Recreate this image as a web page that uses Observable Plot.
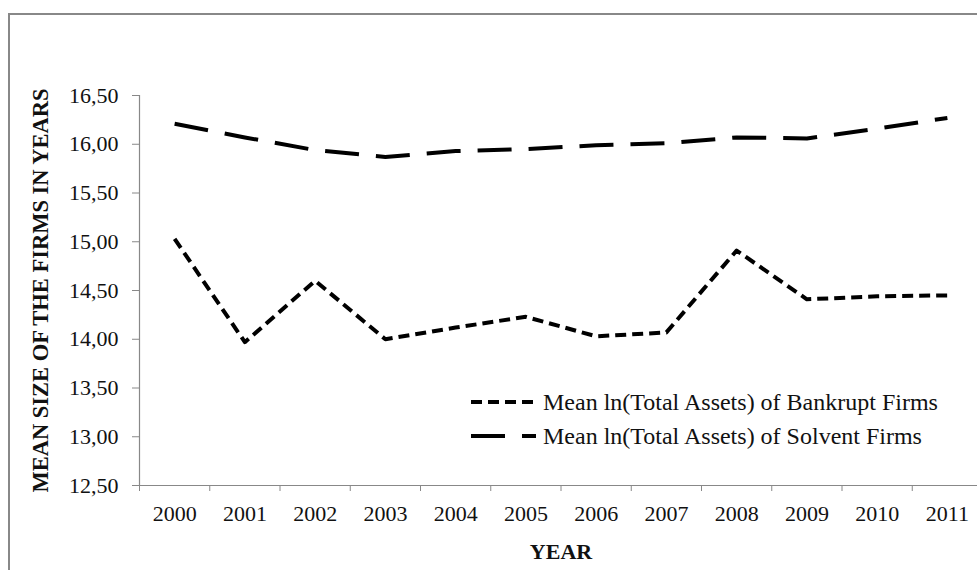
<!DOCTYPE html>
<html>
<head>
<meta charset="utf-8">
<script src="https://cdn.jsdelivr.net/npm/d3@7"></script>
<script src="https://cdn.jsdelivr.net/npm/@observablehq/plot@0.6"></script>
<style>
  html, body { margin: 0; padding: 0; overflow: hidden; background: #fff; width: 977px; height: 570px; }
  #wrap { position: relative; width: 977px; height: 570px; overflow: hidden; }
  #frame { position: absolute; left: 8px; top: 13px; width: 1100px; height: 700px; border: 2px solid #888; box-sizing: border-box; pointer-events: none; }
  #chart { position: absolute; left: 0; top: 0; width: 985px; height: 570px; }
  #chart svg { max-width: none !important; }
  #legend { position: absolute; left: 471px; top: 385px; font-family: "Liberation Serif", "Times New Roman", serif; font-size: 24px; color: #111; }
  .row { display: flex; align-items: center; height: 34px; white-space: nowrap; }
  .row svg { margin-right: 6px; }
</style>
</head>
<body>
<div id="wrap">
  <div id="frame"></div>
  <div id="chart"></div>
  <div id="legend"></div>
</div>
<script>
// ---- data ----
const years = [2000, 2001, 2002, 2003, 2004, 2005, 2006, 2007, 2008, 2009, 2010, 2011];
const bankrupt = [15.03, 13.97, 14.60, 14.00, 14.12, 14.23, 14.03, 14.07, 14.91, 14.41, 14.44, 14.45];
const solvent = [16.21, 16.07, 15.94, 15.87, 15.93, 15.95, 15.99, 16.01, 16.07, 16.06, 16.16, 16.27];
const seriesNames = ["Mean ln(Total Assets) of Bankrupt Firms", "Mean ln(Total Assets) of Solvent Firms"];
const yTicks = [12.5, 13, 13.5, 14, 14.5, 15, 15.5, 16, 16.5];
const yTitle = "MEAN SIZE OF THE FIRMS IN YEARS";
const xTitle = "YEAR";

// ---- styles ----
const dashes = ["11,6", "34,17"];
const font = "'Liberation Serif', 'Times New Roman', serif";

const rows = [];
years.forEach((yr, i) => {
  rows.push({year: yr, value: bankrupt[i], series: seriesNames[0]});
  rows.push({year: yr, value: solvent[i], series: seriesNames[1]});
});
const boundaries = [...years.map(y => y - 0.5), years[years.length - 1] + 0.5];

const chart = Plot.plot({
  width: 985,
  height: 570,
  marginLeft: 139,
  marginRight: 3,
  marginTop: 95,
  marginBottom: 85,
  style: {fontFamily: font, fontSize: "22px", color: "#111", background: "transparent", maxWidth: "none"},
  x: {domain: [boundaries[0], boundaries[boundaries.length - 1]], axis: null},
  y: {domain: [12.5, 16.5], axis: null},
  marks: [
    Plot.axisY({ticks: yTicks, tickSize: 7, tickPadding: 14, stroke: "#888", fill: "#111",
      tickFormat: d => d.toFixed(2).replace(".", ","), label: null}),
    Plot.axisX({ticks: boundaries, tickSize: 6, stroke: "#888", tickFormat: () => "", label: null}),
    Plot.axisX({ticks: years, tickSize: 0, tickPadding: 20, fill: "#111", tickFormat: d => String(d), label: null}),
    Plot.ruleX([boundaries[0]], {stroke: "#888", strokeWidth: 1.2}),
    Plot.ruleY([12.5], {stroke: "#888", strokeWidth: 1.2}),
    Plot.line(rows.filter(d => d.series === seriesNames[1]), {x: "year", y: "value", stroke: "#000",
      strokeWidth: 4, strokeDasharray: dashes[1], strokeLinejoin: "round", strokeLinecap: "butt"}),
    Plot.line(rows.filter(d => d.series === seriesNames[0]), {x: "year", y: "value", stroke: "#000",
      strokeWidth: 4, strokeDasharray: dashes[0], strokeLinejoin: "round", strokeLinecap: "butt"}),
    Plot.text([yTitle], {frameAnchor: "left", dx: -99, rotate: -90, fontWeight: "bold", fontSize: 22.5,
      fill: "#111", text: d => d, textAnchor: "middle", lineAnchor: "middle"}),
    Plot.text([xTitle], {frameAnchor: "bottom", dy: 66, fontWeight: "bold", fontSize: 22,
      fill: "#111", text: d => d, textAnchor: "middle", lineAnchor: "middle"})
  ]
});
chart.style.maxWidth = "none";
document.getElementById("chart").appendChild(chart);

// legend
const legend = d3.select("#legend");
seriesNames.forEach((name, i) => {
  const row = legend.append("div").attr("class", "row");
  const s = row.append("svg").attr("width", 66).attr("height", 10);
  s.append("line").attr("x1", 0).attr("x2", 65).attr("y1", 5).attr("y2", 5)
    .attr("stroke", "#000").attr("stroke-width", 4).attr("stroke-dasharray", dashes[i]);
  row.append("span").text(name);
});
</script>
</body>
</html>
